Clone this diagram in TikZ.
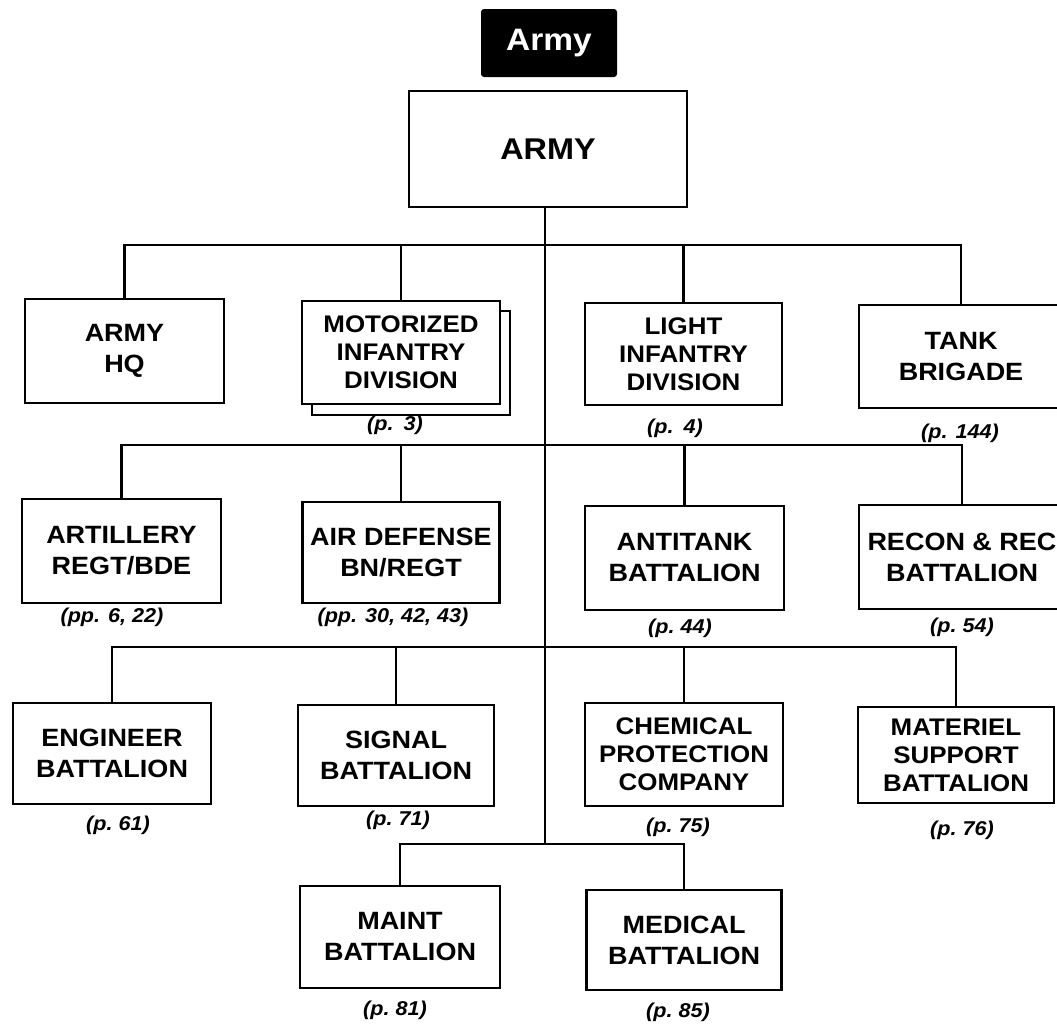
\documentclass[tikz,border=0pt]{standalone}
\usepackage{fontspec}
\setmainfont{Liberation Sans}[FakeStretch=1.08]
\begin{document}
\begin{tikzpicture}[x=1pt,y=-1pt,
  box/.style={draw, line width=2.6pt, fill=white, align=center, inner sep=0pt,
    font=\fontsize{25}{31}\selectfont\bfseries},
  tribox/.style={box, font=\fontsize{24}{28}\selectfont\bfseries},
  lbl/.style={font=\fontsize{20}{24}\selectfont\bfseries\itshape, inner sep=0pt},
  conn/.style={line width=2.4pt}]
\useasboundingbox (0,0) rectangle (1057,1023);

% title and top box
\node[fill=black, rounded corners=3pt, minimum width=136pt, minimum height=68pt,
  text=white, font=\fontsize{31}{34}\selectfont\bfseries] (title) at (549,43) {Army};
\node[box, minimum width=278pt, minimum height=116pt,
  font=\fontsize{30}{34}\selectfont\bfseries] (army) at (548,149) {ARMY};

% row 1
\node[box, minimum width=199pt, minimum height=104pt] (hq) at (124.5,351) {ARMY\\HQ};
\node[box, minimum width=198pt, minimum height=104pt] (motsh) at (411,363) {};
\node[tribox, minimum width=198pt, minimum height=103pt] (mot) at (401,352.5) {MOTORIZED\\INFANTRY\\DIVISION};
\node[tribox, minimum width=197pt, minimum height=102pt] (light) at (683.5,354) {LIGHT\\INFANTRY\\DIVISION};
\node[box, minimum width=204pt, minimum height=103pt] (tank) at (961,356.5) {TANK\\BRIGADE};

% row 2
\node[box, minimum width=199pt, minimum height=104pt] (art) at (121.5,551) {ARTILLERY\\REGT/BDE};
\node[box, minimum width=197pt, minimum height=101pt] (air) at (401,552.5) {AIR DEFENSE\\BN/REGT};
\node[box, minimum width=199pt, minimum height=104pt] (anti) at (684.5,558) {ANTITANK\\BATTALION};
\node[box, minimum width=206pt, minimum height=104pt] (recon) at (962,557) {RECON \& REC\\BATTALION};

% row 3
\node[box, minimum width=198pt, minimum height=101pt] (eng) at (112,753.5) {ENGINEER\\BATTALION};
\node[box, minimum width=196pt, minimum height=101pt] (sig) at (396,755.5) {SIGNAL\\BATTALION};
\node[tribox, minimum width=198pt, minimum height=103pt] (chem) at (684,754.5) {CHEMICAL\\PROTECTION\\COMPANY};
\node[tribox, minimum width=196pt, minimum height=96pt] (mat) at (956,755) {MATERIEL\\SUPPORT\\BATTALION};

% row 4
\node[box, minimum width=200pt, minimum height=102pt] (maint) at (400,937) {MAINT\\BATTALION};
\node[box, minimum width=195pt, minimum height=100pt] (med) at (684,940) {MEDICAL\\BATTALION};

% page labels
\node[lbl] (l3) at (395,425) {(p.\enspace 3)};
\node[lbl] (l4) at (675,428) {(p.\enspace 4)};
\node[lbl] (l144) at (960,433) {(p. 144)};
\node[lbl] (l6) at (112,617) {(pp. 6, 22)};
\node[lbl] (l30) at (393,617) {(pp. 30, 42, 43)};
\node[lbl] (l44) at (680,628) {(p.\ 44)};
\node[lbl] (l54) at (962,627) {(p.\ 54)};
\node[lbl] (l61) at (118,825) {(p.\ 61)};
\node[lbl] (l71) at (398,820) {(p.\ 71)};
\node[lbl] (l75) at (678,827) {(p.\ 75)};
\node[lbl] (l76) at (962,830) {(p.\ 76)};
\node[lbl] (l81) at (395,1010) {(p.\ 81)};
\node[lbl] (l85) at (678,1012) {(p.\ 85)};

% connectors
\coordinate (j1) at (545,245);
\coordinate (j2) at (545,445);
\coordinate (j3) at (545,647);
\coordinate (j4) at (545,844);
\draw[conn] (army.south -| j1) -- (j4);

\draw[conn] (hq.north) |- (j1) -| (tank.north);
\draw[conn] (mot.north) -- (mot.north |- j1);
\draw[conn] (light.north) -- (light.north |- j1);

\draw[conn] (art.north) |- (j2) -| (recon.north);
\draw[conn] (air.north) -- (air.north |- j2);
\draw[conn] (anti.north) -- (anti.north |- j2);

\draw[conn] (eng.north) |- (j3) -| (mat.north);
\draw[conn] (sig.north) -- (sig.north |- j3);
\draw[conn] (chem.north) -- (chem.north |- j3);

\draw[conn] (maint.north) |- (j4) -| (med.north);
\end{tikzpicture}
\end{document}
